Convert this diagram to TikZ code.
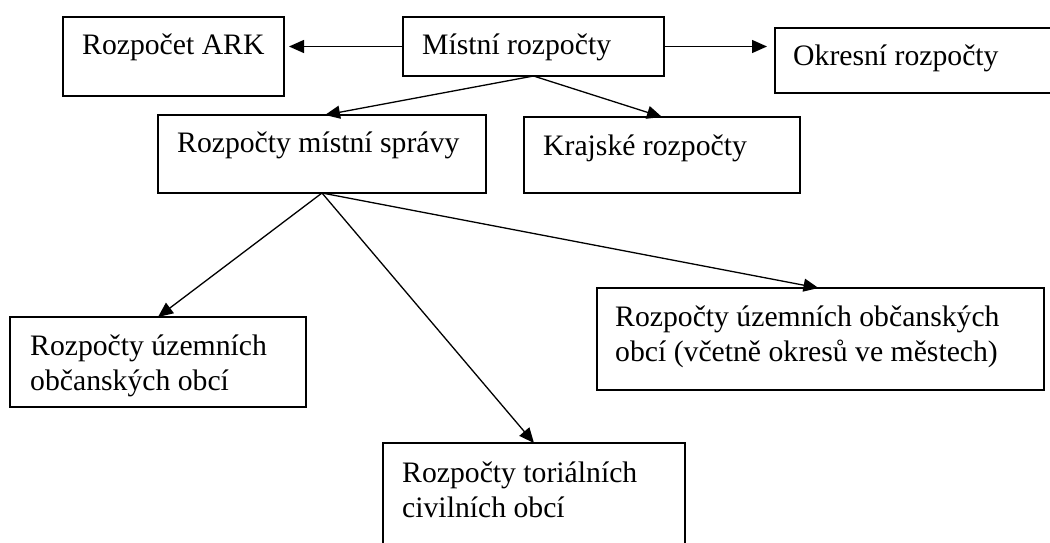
\documentclass[tikz,border=0pt]{standalone}
\usepackage{fontspec}
\setmainfont{Liberation Serif}
\usetikzlibrary{arrows.meta}
\begin{document}
\begin{tikzpicture}[x=1pt,y=-1pt,
  box/.style={draw, line width=1.3pt, rectangle, inner sep=0pt, outer sep=0pt, anchor=north west},
  lbl/.style={anchor=base west, inner sep=0pt, font=\fontsize{29.7}{35.5}\selectfont},
  conn/.style={line width=1.3pt, -{Triangle[length=15pt,width=13pt]}}]
\useasboundingbox (0,0) rectangle (1050,543);
\clip (0,0) rectangle (1050,543);
% boxes
\node[box, minimum width=221pt, minimum height=79pt] (ark) at (63,17) {};
\node[box, minimum width=261pt, minimum height=59pt] (mist) at (403,17) {};
\node[box, minimum width=300pt, minimum height=65pt] (okr) at (775,28) {};
\node[box, minimum width=328pt, minimum height=78pt] (spr) at (158,115) {};
\node[box, minimum width=276pt, minimum height=76pt] (kraj) at (524,117) {};
\node[box, minimum width=296pt, minimum height=90pt] (obc1) at (10,317) {};
\node[box, minimum width=447pt, minimum height=102pt] (obc2) at (597,288) {};
\node[box, minimum width=302pt, minimum height=130pt] (tor) at (383,443) {};
% labels
\node[lbl] (tark) at ([shift={(19,37.5)}]ark.north west) {Rozpočet ARK};
\node[lbl] (tmist) at ([shift={(19,37.5)}]mist.north west) {Místní rozpočty};
\node[lbl] (tokr) at ([shift={(18,37.5)}]okr.north west) {Okresní rozpočty};
\node[lbl] (tspr) at ([shift={(19,37.5)}]spr.north west) {Rozpočty místní správy};
\node[lbl] (tkraj) at ([shift={(19,38)}]kraj.north west) {Krajské rozpočty};
\node[lbl] (tobc1) at ([shift={(20,38)}]obc1.north west) {\begin{tabular}[t]{@{}l@{}}Rozpočty územních\\ občanských obcí\end{tabular}};
\node[lbl] (tobc2) at ([shift={(18,38)}]obc2.north west) {\begin{tabular}[t]{@{}l@{}}Rozpočty územních občanských\\ obcí (včetně okresů ve městech)\end{tabular}};
\node[lbl] (ttor) at ([shift={(19,39)}]tor.north west) {\begin{tabular}[t]{@{}l@{}}Rozpočty toriálních\\ civilních obcí\end{tabular}};
% connectors
\draw[conn] (mist.west) -- ([xshift=5pt]mist.west -| ark.east);
\draw[conn] (mist.east) -- ([xshift=-8pt]mist.east -| okr.west);
\draw[conn] (mist.south) -- ([xshift=3pt]spr.north);
\draw[conn] (mist.south) -- (kraj.north);
\draw[conn] (spr.south) -- (obc1.north);
\draw[conn] (spr.south) -- (tor.north);
\draw[conn] (spr.south) -- ([xshift=-2pt]obc2.north);
\end{tikzpicture}
\end{document}
